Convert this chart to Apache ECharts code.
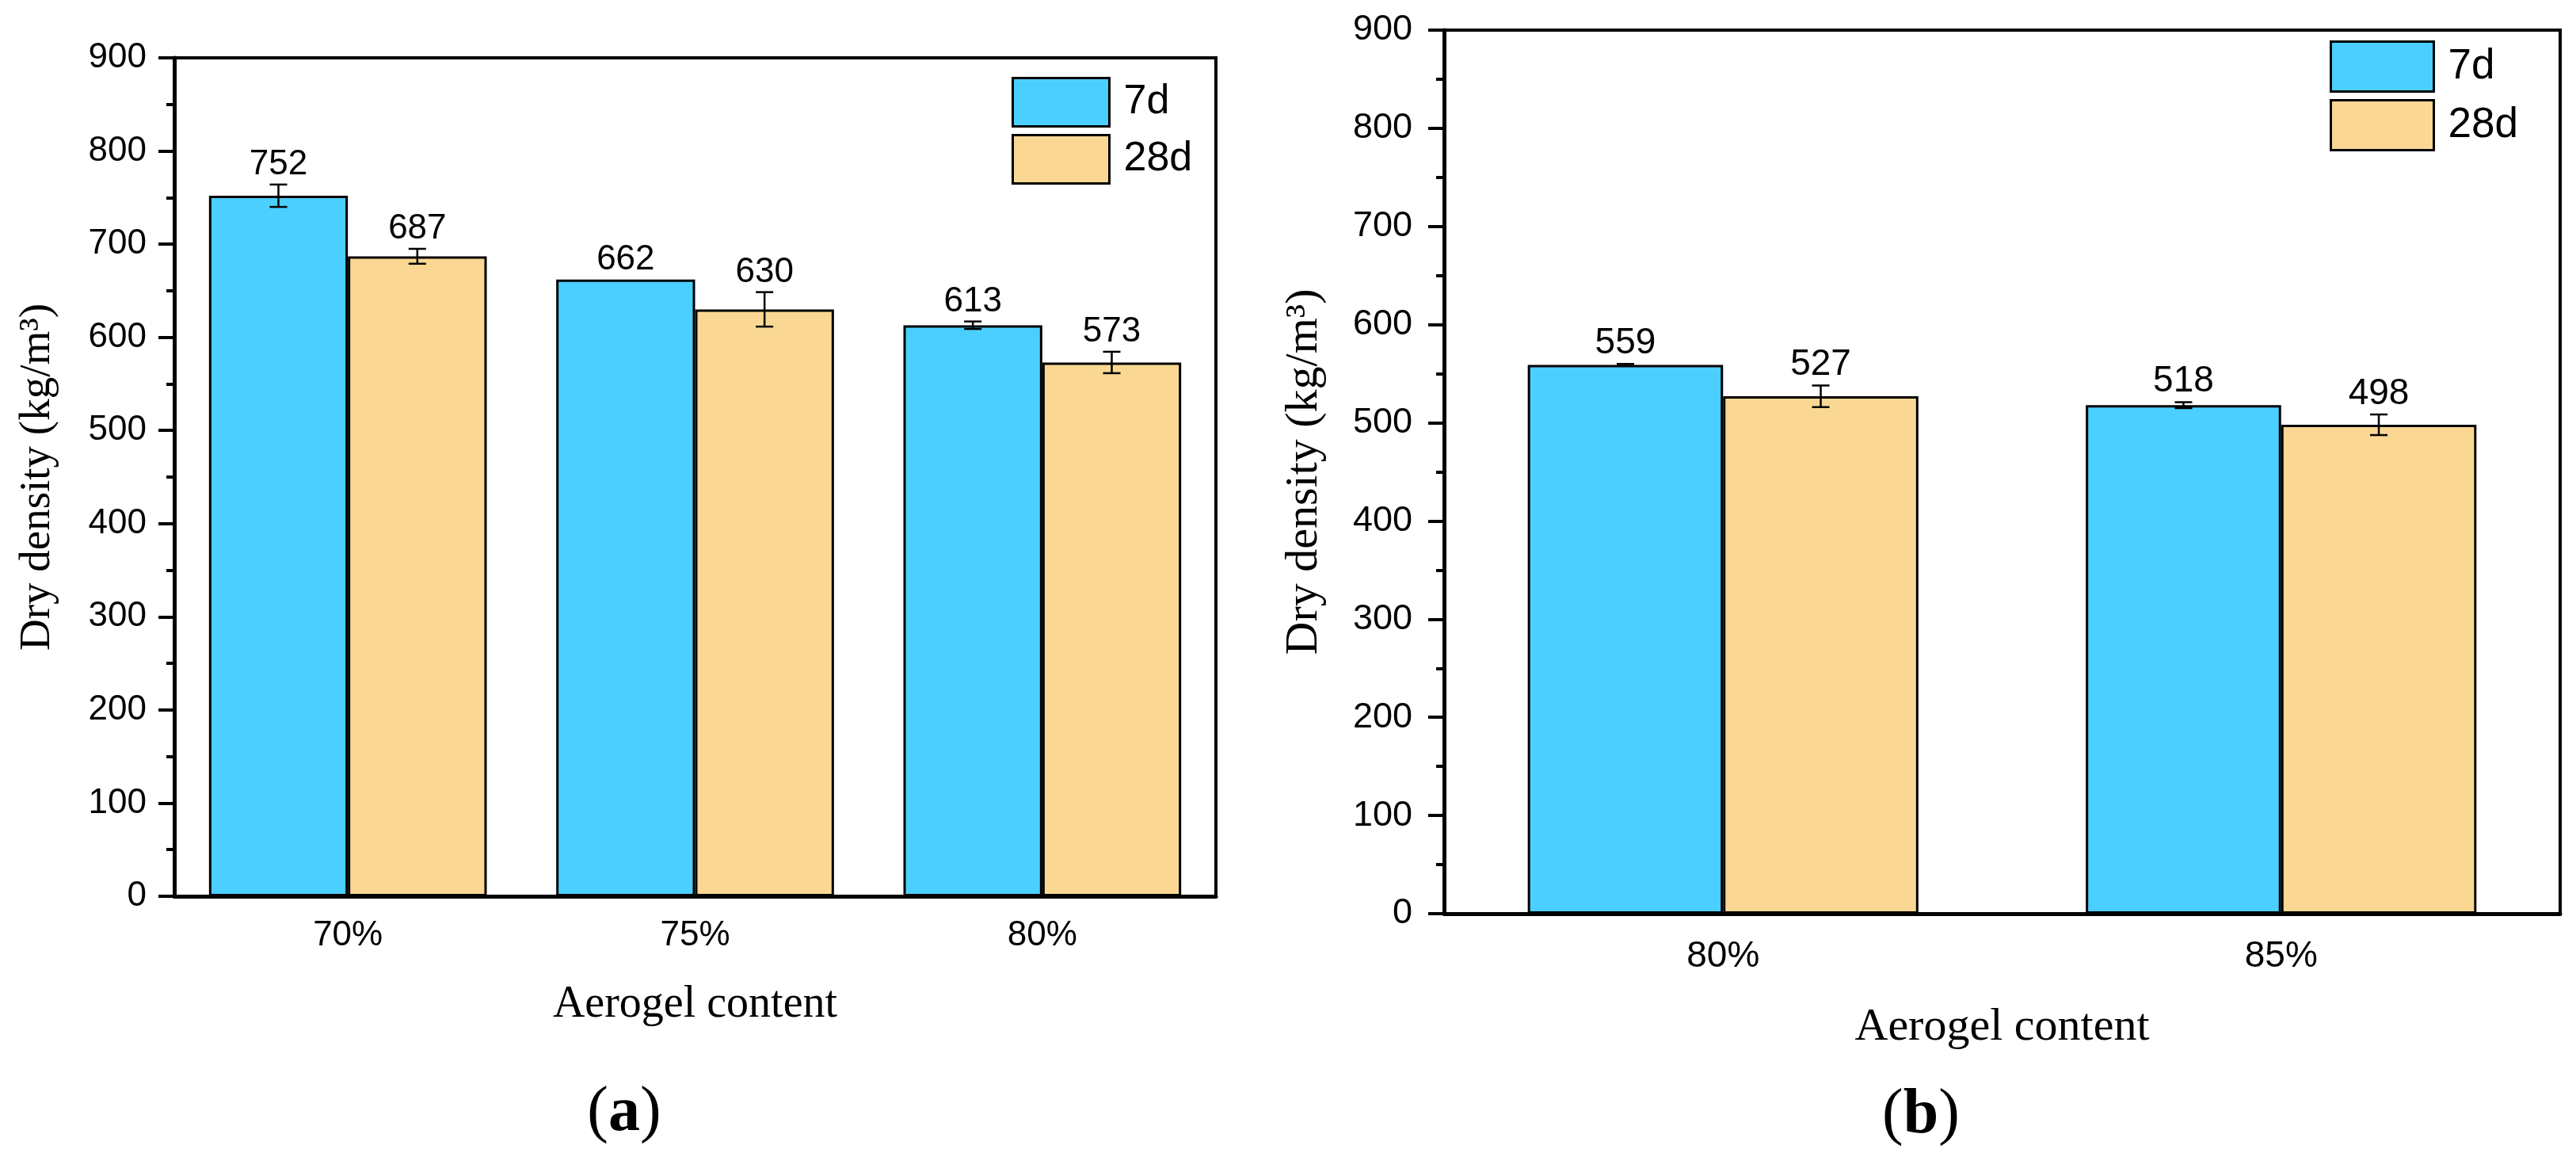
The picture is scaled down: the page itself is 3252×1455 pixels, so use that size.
<!DOCTYPE html>
<html>
<head>
<meta charset="utf-8">
<script src="https://cdn.jsdelivr.net/npm/echarts@6/dist/echarts.min.js"></script>
<style>
html, body { margin: 0; padding: 0; background: #fff; }
#main { width: 3252px; height: 1455px; }
</style>
</head>
<body>
<div id="main"></div>
<script>
// 数据 (a)
var catsA = ['70%', '75%', '80%'];
var d7A = [752, 662, 613];
var d28A = [687, 630, 573];
var err7A = [12, 0, 4];
var err28A = [8, 18.5, 11.5];

// 数据 (b)
var catsB = ['80%', '85%'];
var d7B = [559, 518];
var d28B = [527, 498];
var err7B = [1, 3];
var err28B = [11, 10.5];

var yMin = 0, yMax = 900, yStep = 100;

var blue = '#4BCFFF';
var tan = '#FAD894';
var sans = 'Liberation Sans';
var serif = 'Liberation Serif';

var myChart = echarts.init(document.getElementById('main'));

// 误差棒 + 数值标签
function errSeries(xIdx, yIdx, vals, errs, shift, fontSize) {
    var data = vals.map(function (v, i) { return [i, v, errs[i]]; });
    return {
        type: 'custom',
        xAxisIndex: xIdx,
        yAxisIndex: yIdx,
        z: 10,
        clip: false,
        encode: { x: 0, y: 1 },
        data: data,
        renderItem: function (params, api) {
            var i = api.value(0), v = api.value(1), e = api.value(2);
            var band = api.size([1, 0])[0];
            var x = api.coord([i, v])[0] + shift * band;
            var top = api.coord([i, v + e])[1];
            var bot = api.coord([i, v - e])[1];
            var lineStyle = { stroke: '#000', lineWidth: 2.5 };
            var children = [];
            if (e > 0) {
                children.push({ type: 'line', shape: { x1: x, y1: top, x2: x, y2: bot }, style: lineStyle });
                children.push({ type: 'line', shape: { x1: x - 11, y1: top, x2: x + 11, y2: top }, style: lineStyle });
                children.push({ type: 'line', shape: { x1: x - 11, y1: bot, x2: x + 11, y2: bot }, style: lineStyle });
            }
            children.push({
                type: 'text',
                x: x,
                y: top - 3,
                style: {
                    text: String(v),
                    fill: '#000',
                    font: fontSize + 'px "' + sans + '"',
                    align: 'center',
                    verticalAlign: 'bottom',
                    textAlign: 'center',
                    textVerticalAlign: 'bottom'
                }
            });
            return { type: 'group', children: children };
        }
    };
}

function barSeries(name, xIdx, yIdx, vals, color, gap) {
    return {
        name: name,
        type: 'bar',
        xAxisIndex: xIdx,
        yAxisIndex: yIdx,
        data: vals,
        barGap: '0%',
        barCategoryGap: gap,
        itemStyle: { color: color, borderColor: '#000', borderWidth: 3 }
    };
}

function mainX(grid, cats, fontSize, margin, nameGap, nameSize) {
    return {
        type: 'category',
        gridIndex: grid,
        data: cats,
        name: 'Aerogel content',
        nameLocation: 'middle',
        nameGap: nameGap,
        nameTextStyle: { fontFamily: serif, fontSize: nameSize, color: '#000' },
        axisLine: { lineStyle: { color: '#000', width: 5 } },
        axisTick: { alignWithLabel: true, length: 20, lineStyle: { color: '#000', width: 4 } },
        axisLabel: { fontFamily: sans, fontSize: fontSize, color: '#000', margin: margin },
        splitLine: { show: false }
    };
}

// 类别边界上的短刻度
function edgeX(grid, cats) {
    return {
        type: 'category',
        gridIndex: grid,
        data: cats,
        axisLine: { show: false },
        axisTick: { length: 10, lineStyle: { color: '#000', width: 4 } },
        axisLabel: { show: false },
        splitLine: { show: false }
    };
}

function valY(grid, fontSize, margin, nameGap, nameSize) {
    return {
        type: 'value',
        gridIndex: grid,
        min: yMin,
        max: yMax,
        interval: yStep,
        name: 'Dry density (kg/m³)',
        nameLocation: 'middle',
        nameGap: nameGap,
        nameTextStyle: { fontFamily: serif, fontSize: nameSize, color: '#000' },
        axisLine: { show: true, lineStyle: { color: '#000', width: 5 } },
        axisTick: { show: true, length: 20, lineStyle: { color: '#000', width: 4 } },
        minorTick: { show: true, splitNumber: 2, length: 10, lineStyle: { color: '#000', width: 4 } },
        axisLabel: { fontFamily: sans, fontSize: fontSize, color: '#000', margin: margin },
        splitLine: { show: false }
    };
}

function legendAt(left, top, w, h, fontSize) {
    return {
        orient: 'vertical',
        left: left,
        top: top,
        padding: 0,
        itemWidth: w,
        itemHeight: h,
        itemGap: 8,
        icon: 'rect',
        data: ['7d', '28d'],
        itemStyle: { borderColor: '#000', borderWidth: 3 },
        textStyle: { fontFamily: sans, fontSize: fontSize, color: '#000', padding: [0, 0, 0, 13] }
    };
}

function panelLabel(x, y, letter) {
    return {
        type: 'text', x: x, y: y,
        style: {
            text: '{p|(}{b|' + letter + '}{p|)}',
            align: 'center', verticalAlign: 'middle', textAlign: 'center', textVerticalAlign: 'middle',
            rich: {
                p: { fontFamily: serif, fontSize: 80, fill: '#000', color: '#000' },
                b: { fontFamily: serif, fontSize: 80, fontWeight: 'bold', fill: '#000', color: '#000' }
            }
        }
    };
}

var option = {
    animation: false,
    backgroundColor: '#fff',
    grid: [
        { left: 220, top: 73, width: 1315, height: 1058, show: true, borderColor: '#000', borderWidth: 4 },
        { left: 1823, top: 38, width: 1409, height: 1115, show: true, borderColor: '#000', borderWidth: 4 }
    ],
    xAxis: [
        mainX(0, catsA, 44, 28, 109, 56),
        edgeX(0, catsA),
        mainX(1, catsB, 46, 31, 115, 58),
        edgeX(1, catsB)
    ],
    yAxis: [
        valY(0, 44, 35, 145, 55),
        valY(1, 45, 40, 147, 58)
    ],
    legend: [
        legendAt(1277, 97, 122, 61, 52),
        legendAt(2941, 51, 130, 63, 53)
    ],
    series: [
        barSeries('7d', 0, 0, d7A, blue, '20%'),
        barSeries('28d', 0, 0, d28A, tan, '20%'),
        errSeries(0, 0, d7A, err7A, -0.2, 44),
        errSeries(0, 0, d28A, err28A, 0.2, 44),
        barSeries('7d', 2, 1, d7B, blue, '30%'),
        barSeries('28d', 2, 1, d28B, tan, '30%'),
        errSeries(2, 1, d7B, err7B, -0.175, 46),
        errSeries(2, 1, d28B, err28B, 0.175, 46)
    ],
    graphic: [
        panelLabel(788, 1405, 'a'),
        panelLabel(2425, 1408, 'b')
    ]
};

myChart.setOption(option);
</script>
</body>
</html>
